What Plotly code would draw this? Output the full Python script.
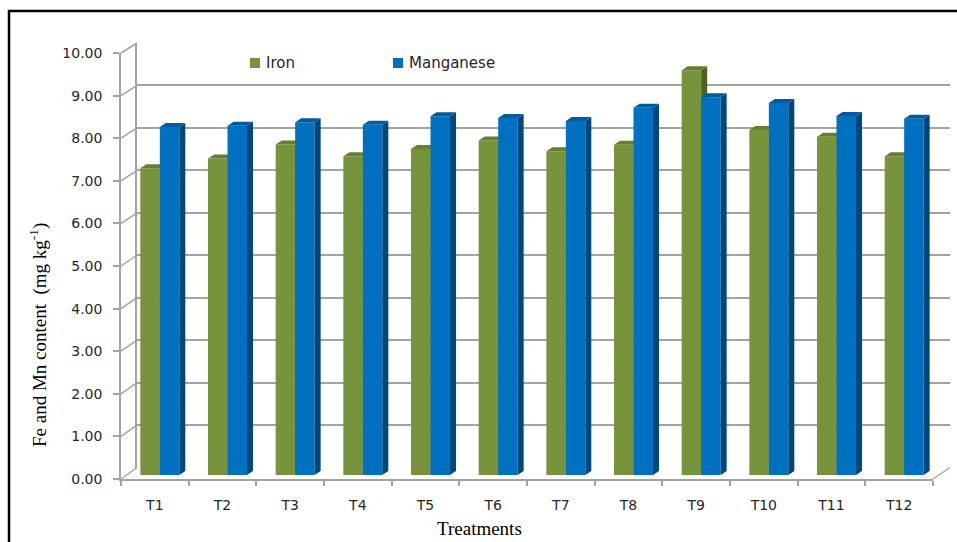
import plotly.graph_objects as go

# ---------------- data ----------------
categories = ["T1", "T2", "T3", "T4", "T5", "T6", "T7", "T8", "T9", "T10", "T11", "T12"]
iron = [7.20, 7.43, 7.76, 7.48, 7.65, 7.85, 7.60, 7.75, 9.50, 8.10, 7.94, 7.48]
manganese = [8.17, 8.20, 8.28, 8.22, 8.42, 8.38, 8.31, 8.62, 8.87, 8.73, 8.43, 8.36]
y_ticks = [0, 1, 2, 3, 4, 5, 6, 7, 8, 9, 10]

# ---------------- geometry helpers (pixels -> paper) ----------------
W, H = 957, 542
def fx(px):
    return px / W
def fy(py):
    return 1 - py / H

GRID = "#a3a3a3"
FE_FRONT, FE_TOP, FE_SIDE = "#77933C", "#65802F", "#4D6125"
MN_FRONT, MN_TOP, MN_SIDE = "#0070C0", "#005B9F", "#00477C"

# front plane
F_X0, F_X1, F_Y0, F_Y1 = 121, 933, 479, 53
# back wall
B_X0, B_X1, B_Y0, B_Y1 = 137, 950, 467.5, 43
# bar plane
P_X0, P_X1, P_Y0, P_Y1 = 126, 938, 475, 49

n = len(categories)
idx = list(range(n))
bw = 0.288                     # bar width in category units
x_unit = (P_X1 - P_X0) / n     # px per category
y_unit = (P_Y0 - P_Y1) / 10.0  # px per value unit
ddx = 6.0 / x_unit             # depth offset in data units
ddy = 4.0 / y_unit


def faces(values, offset):
    sx, sy, tx, ty = [], [], [], []
    for i, v in zip(idx, values):
        xl = i + offset
        xr = xl + bw
        sx += [xr, xr + ddx, xr + ddx, xr, xr, None]
        sy += [0, ddy, v + ddy, v, 0, None]
        tx += [xl, xr, xr + ddx, xl + ddx, xl, None]
        ty += [v, v, v + ddy, v + ddy, v, None]
    return sx, sy, tx, ty


fig = go.Figure()

# back wall placeholder trace (invisible) so subplot exists
fig.add_trace(go.Scatter(x=[0], y=[0], mode="markers", marker=dict(opacity=0),
                         hoverinfo="skip", showlegend=False, xaxis="x", yaxis="y"))

# Iron
fig.add_trace(go.Bar(x=idx, y=iron, width=bw, offset=-bw, name="Iron",
                     marker=dict(color=FE_FRONT, line=dict(width=0)),
                     xaxis="x2", yaxis="y2", showlegend=False))
sx, sy, tx, ty = faces(iron, -bw)
fig.add_trace(go.Scatter(x=sx, y=sy, fill="toself", fillcolor=FE_SIDE, mode="lines",
                         line=dict(width=0), hoverinfo="skip", showlegend=False,
                         xaxis="x2", yaxis="y2"))
fig.add_trace(go.Scatter(x=tx, y=ty, fill="toself", fillcolor=FE_TOP, mode="lines",
                         line=dict(width=0), hoverinfo="skip", showlegend=False,
                         xaxis="x2", yaxis="y2"))

# Manganese
fig.add_trace(go.Bar(x=idx, y=manganese, width=bw, offset=0, name="Manganese",
                     marker=dict(color=MN_FRONT, line=dict(width=0)),
                     xaxis="x3", yaxis="y3", showlegend=False))
sx, sy, tx, ty = faces(manganese, 0)
fig.add_trace(go.Scatter(x=sx, y=sy, fill="toself", fillcolor=MN_SIDE, mode="lines",
                         line=dict(width=0), hoverinfo="skip", showlegend=False,
                         xaxis="x3", yaxis="y3"))
fig.add_trace(go.Scatter(x=tx, y=ty, fill="toself", fillcolor=MN_TOP, mode="lines",
                         line=dict(width=0), hoverinfo="skip", showlegend=False,
                         xaxis="x3", yaxis="y3"))

# front axes placeholder
fig.add_trace(go.Scatter(x=[0], y=[0], mode="markers", marker=dict(opacity=0),
                         hoverinfo="skip", showlegend=False, xaxis="x4", yaxis="y4"))

hidden = dict(visible=False, showgrid=False, zeroline=False, automargin=False)

shapes = []
# diagonal connectors (front tick -> back wall)
for k in y_ticks:
    yfp = F_Y0 - (F_Y0 - F_Y1) * k / 10
    ybp = B_Y0 - (B_Y0 - B_Y1) * k / 10
    shapes.append(dict(type="line", xref="paper", yref="paper",
                       x0=fx(F_X0), y0=fy(yfp), x1=fx(B_X0), y1=fy(ybp),
                       line=dict(color=GRID, width=1.5)))
# right floor edge
shapes.append(dict(type="line", xref="paper", yref="paper",
                   x0=fx(F_X1), y0=fy(F_Y0), x1=fx(B_X1), y1=fy(B_Y0),
                   line=dict(color=GRID, width=1.5)))
# outer border
shapes.append(dict(type="rect", xref="paper", yref="paper",
                   x0=fx(9), y0=fy(11), x1=1.05, y1=-0.05,
                   line=dict(color="black", width=2.5)))
# legend swatches
shapes.append(dict(type="rect", xref="paper", yref="paper",
                   x0=fx(250), y0=fy(58), x1=fx(260), y1=fy(68),
                   fillcolor=FE_FRONT, line=dict(width=0)))
shapes.append(dict(type="rect", xref="paper", yref="paper",
                   x0=fx(393), y0=fy(58), x1=fx(403), y1=fy(68),
                   fillcolor=MN_FRONT, line=dict(width=0)))

annotations = [
    dict(text="Iron", xref="paper", yref="paper", x=fx(264), y=fy(63),
         xanchor="left", yanchor="middle", showarrow=False,
         font=dict(family="DejaVu Sans", size=15, color="#262626")),
    dict(text="Manganese", xref="paper", yref="paper", x=fx(407), y=fy(63),
         xanchor="left", yanchor="middle", showarrow=False,
         font=dict(family="DejaVu Sans", size=15, color="#262626")),
    dict(text="Fe and Mn content&#160; (mg kg<sup>-1</sup>)", xref="paper", yref="paper",
         x=fx(38), y=fy(335), xanchor="center", yanchor="middle", textangle=-90,
         showarrow=False, font=dict(family="Liberation Serif", size=19, color="black")),
    dict(text="Treatments", xref="paper", yref="paper", x=fx(479), y=fy(528),
         xanchor="center", yanchor="middle", showarrow=False,
         font=dict(family="Liberation Serif", size=19, color="black")),
]

fig.update_layout(
    template="none",
    width=W, height=H,
    margin=dict(l=0, r=0, t=0, b=0, pad=0, autoexpand=False),
    paper_bgcolor="white", plot_bgcolor="rgba(0,0,0,0)",
    showlegend=False,
    xaxis=dict(domain=[fx(B_X0), fx(B_X1)], range=[0, 1], showgrid=False, zeroline=False,
               showticklabels=False, ticks="", showline=False, anchor="y", automargin=False),
    yaxis=dict(domain=[fy(B_Y0), fy(B_Y1)], range=[-0.001, 10.001], tickvals=y_ticks,
               showgrid=True, gridcolor=GRID, gridwidth=1.5, zeroline=False,
               showticklabels=False, ticks="", showline=True, linecolor=GRID,
               linewidth=1.5, anchor="x", automargin=False),
    xaxis2=dict(domain=[fx(P_X0), fx(P_X1)], range=[-0.5, n - 0.5], anchor="y2", **hidden),
    yaxis2=dict(domain=[fy(P_Y0), fy(P_Y1)], range=[0, 10], anchor="x2", **hidden),
    xaxis3=dict(domain=[fx(P_X0), fx(P_X1)], range=[-0.5, n - 0.5], anchor="y3", **hidden),
    yaxis3=dict(domain=[fy(P_Y0), fy(P_Y1)], range=[0, 10], anchor="x3", **hidden),
    xaxis4=dict(domain=[fx(F_X0), fx(F_X1)], range=[-0.5, n - 0.5], anchor="y4",
                tickvals=idx, ticktext=categories, ticks="", showgrid=False, zeroline=False,
                showline=True, linecolor=GRID, linewidth=1.5, automargin=False,
                minor=dict(tickvals=[i - 0.5 for i in range(n + 1)], ticks="outside",
                           ticklen=5, tickcolor=GRID, tickwidth=1.5, showgrid=False),
                ticklabelstandoff=12,
                tickfont=dict(family="DejaVu Sans", size=14, color="#262626")),
    yaxis4=dict(domain=[fy(F_Y0), fy(F_Y1)], range=[0, 10], anchor="x4",
                tickvals=y_ticks, tickformat=".2f", ticks="outside", ticklen=6,
                tickcolor=GRID, tickwidth=1.5, showgrid=False, zeroline=False,
                showline=True, linecolor=GRID, linewidth=1.5, ticklabelstandoff=8,
                automargin=False,
                tickfont=dict(family="DejaVu Sans", size=14, color="#262626")),
    shapes=shapes,
    annotations=annotations,
)

fig.write_html("out.html")
